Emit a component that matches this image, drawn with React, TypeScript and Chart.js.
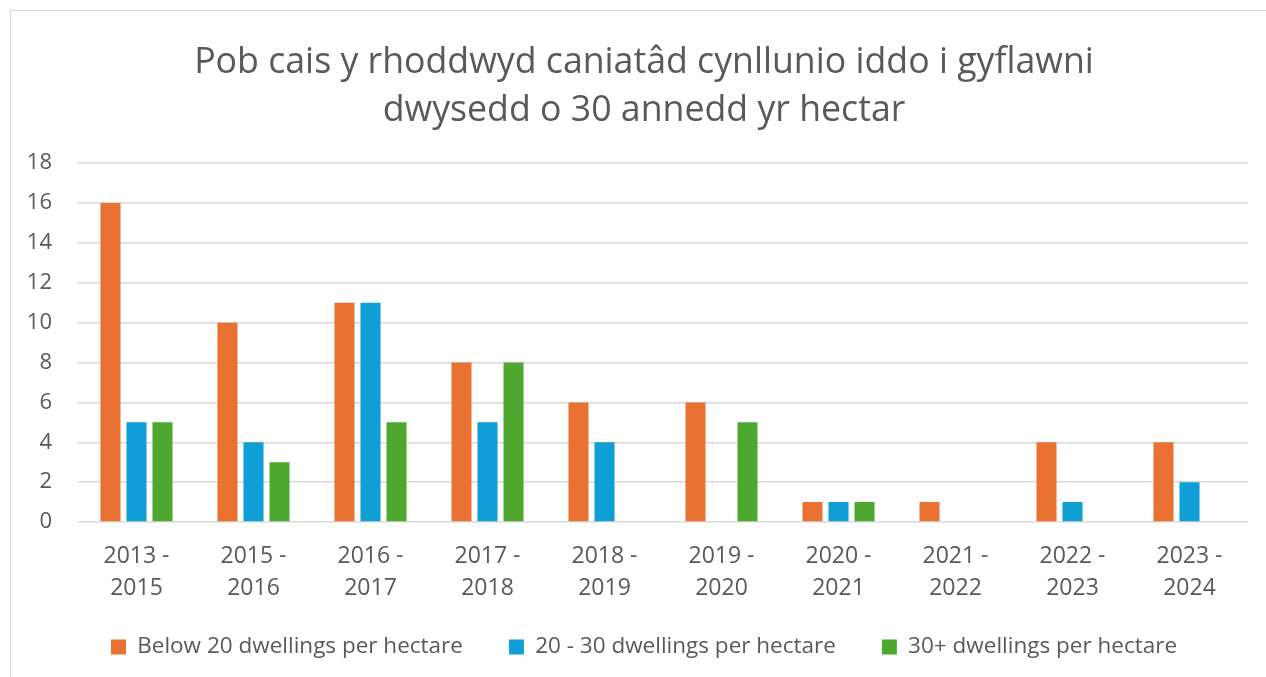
import React, { useEffect, useRef } from "react";
import { Chart, registerables } from "chart.js";

Chart.register(...registerables);

const categories: string[][] = [
  ["2013 -", "2015"],
  ["2015 -", "2016"],
  ["2016 -", "2017"],
  ["2017 -", "2018"],
  ["2018 -", "2019"],
  ["2019 -", "2020"],
  ["2020 -", "2021"],
  ["2021 -", "2022"],
  ["2022 -", "2023"],
  ["2023 -", "2024"],
];
const below20: number[] = [16, 10, 11, 8, 6, 6, 1, 1, 4, 4];
const from20to30: number[] = [5, 4, 11, 5, 4, 0, 1, 0, 1, 2];
const over30: number[] = [5, 3, 5, 8, 0, 5, 1, 0, 0, 0];
const seriesNames: string[] = [
  "Below 20 dwellings per hectare",
  "20 - 30 dwellings per hectare",
  "30+ dwellings per hectare",
];
const titleLines: string[] = [
  "Pob cais y rhoddwyd caniatâd cynllunio iddo i gyflawni",
  "dwysedd o 30 annedd yr hectar",
];

const FONT = "'Open Sans', 'Noto Sans', sans-serif";
const TEXT = "#595959";

// let tick labels draw outside their (deliberately narrowed) scale boxes
const noLabelClip = (scale: any) => {
  scale._computeLabelArea = () => undefined;
};

export default function App() {
  const ref = useRef<HTMLCanvasElement | null>(null);

  useEffect(() => {
    document.body.style.margin = "0";
    const ctx = ref.current!.getContext("2d")!;
    const chart = new Chart(ctx, {
      type: "bar",
      data: {
        labels: categories,
        datasets: [
          { label: seriesNames[0], data: below20, backgroundColor: "#E97132" },
          { label: seriesNames[1], data: from20to30, backgroundColor: "#0F9ED5" },
          { label: seriesNames[2], data: over30, backgroundColor: "#4EA72E" },
        ],
      },
      options: {
        responsive: false,
        animation: false,
        layout: { padding: { left: 40, right: 18, top: 0, bottom: 8.75 } },
        datasets: {
          bar: { categoryPercentage: 0.667, barPercentage: 0.77, borderWidth: 0 },
        },
        plugins: {
          title: {
            display: true,
            text: titleLines,
            color: TEXT,
            font: { family: FONT, size: 35.7, weight: "normal", lineHeight: 1.345 },
            padding: { top: 38.4, bottom: 28.8 },
          },
          legend: {
            position: "bottom",
            labels: {
              color: TEXT,
              font: { family: FONT, size: 22.5 },
              boxWidth: 15,
              boxHeight: 15,
              padding: 46,
            },
          },
          tooltip: { enabled: false },
        },
        scales: {
          x: {
            grid: { display: false },
            border: { display: false },
            ticks: {
              color: TEXT,
              font: { family: FONT, size: 23, lineHeight: 1.39 },
              maxRotation: 0,
              autoSkip: false,
              padding: 10,
            },
            afterFit: (scale: any) => {
              scale.height = 67.75;
              noLabelClip(scale);
            },
          },
          y: {
            min: 0,
            max: 18,
            ticks: {
              stepSize: 2,
              color: TEXT,
              font: { family: FONT, size: 22 },
              padding: 26,
            },
            grid: { color: "#d9d9d9", lineWidth: 1.5, drawTicks: false },
            border: { display: false },
            afterFit: (scale: any) => {
              scale.width = 38;
              noLabelClip(scale);
            },
          },
        },
      },
    });
    return () => chart.destroy();
  }, []);

  return (
    <div style={{ position: "relative", width: 1266, height: 677, background: "#fff" }}>
      <div
        style={{
          position: "absolute",
          left: 10,
          top: 10,
          right: 0,
          bottom: 0,
          borderLeft: "1.5px solid #d9d9d9",
          borderTop: "1.5px solid #d9d9d9",
        }}
      />
      <canvas
        ref={ref}
        width={1266}
        height={677}
        style={{ position: "absolute", left: 0, top: 0, width: 1266, height: 677 }}
      />
    </div>
  );
}
